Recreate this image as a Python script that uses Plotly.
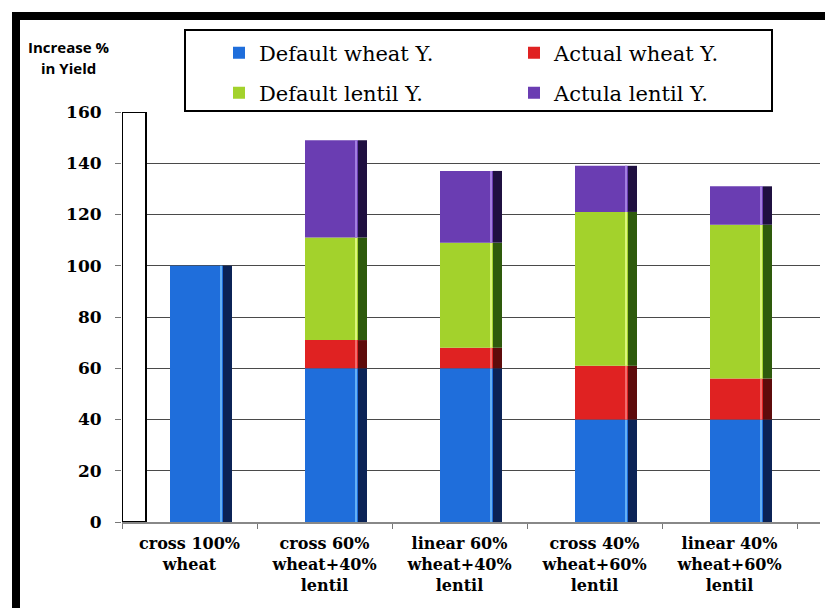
import numpy as np
import plotly.graph_objects as go

# ---------------- data ----------------
categories = [
    "cross 100%<br>wheat",
    "cross 60%<br>wheat+40%<br>lentil",
    "linear 60%<br>wheat+40%<br>lentil",
    "cross 40%<br>wheat+60%<br>lentil",
    "linear 40%<br>wheat+60%<br>lentil",
]
series_names = ["Default wheat Y.", "Actual wheat Y.", "Default lentil Y.", "Actula lentil Y."]
default_wheat = [100, 60, 60, 40, 40]
actual_wheat = [0, 11, 8, 21, 16]
default_lentil = [0, 40, 41, 60, 60]
actual_lentil = [0, 38, 28, 18, 15]
y_tick_values = [0, 20, 40, 60, 80, 100, 120, 140, 160]
y_axis_title = ["Increase %", "in Yield"]

# ---------------- geometry (reference pixel coords) ----------------
PAGE_OFF = 8                     # browser body margin
W, H = 833 - PAGE_OFF, 608 - PAGE_OFF
PLOT_X0, PLOT_X1 = 122, 820      # plot area in reference pixels
PLOT_Y0, PLOT_Y1 = 112, 522
L = PLOT_X0 - PAGE_OFF
T = PLOT_Y0 - PAGE_OFF
R = W - (PLOT_X1 - PAGE_OFF)
B = H - (PLOT_Y1 - PAGE_OFF)
PW, PH = PLOT_X1 - PLOT_X0, PLOT_Y1 - PLOT_Y0
SLOT = 135.0


def px2x(px):
    return (px - PLOT_X0) / PW


def px2y(py):
    return (PLOT_Y1 - py) / PH


front_colors = ["#1f6edb", "#e02222", "#a3d22c", "#6a3db2"]
side_colors = ["#0b2356", "#5e0b0b", "#2e5a0c", "#1f1040"]
high_colors = ["#62b0f7", "#f46a6a", "#dcf57a", "#a27ee0"]
legend_ids = ["legend", "legend", "legend2", "legend2"]

FRONT_OFF, FRONT_W = -19.5 / SLOT, 53 / SLOT
SIDE_OFF, SIDE_W = 33.5 / SLOT, 9 / SLOT
HI_OFF, HI_W = 30.5 / SLOT, 2 / SLOT

serif = "DejaVu Serif"

series_values = [default_wheat, actual_wheat, default_lentil, actual_lentil]
stack = np.array(series_values, dtype=float)
bases = np.vstack([np.zeros(stack.shape[1]), np.cumsum(stack, axis=0)[:-1]])

fig = go.Figure()
for i, name in enumerate(series_names):
    fig.add_trace(go.Bar(
        x=categories, y=stack[i], base=bases[i], name=name,
        offset=FRONT_OFF, width=FRONT_W,
        marker=dict(color=front_colors[i], line=dict(width=0)),
        legend=legend_ids[i], showlegend=True,
    ))
    fig.add_trace(go.Bar(
        x=categories, y=stack[i], base=bases[i], name=name,
        offset=SIDE_OFF, width=SIDE_W,
        marker=dict(color=side_colors[i], line=dict(width=0)),
        showlegend=False, hoverinfo="skip",
    ))
    fig.add_trace(go.Bar(
        x=categories, y=stack[i], base=bases[i], name=name,
        offset=HI_OFF, width=HI_W,
        marker=dict(color=high_colors[i], line=dict(width=0)),
        showlegend=False, hoverinfo="skip",
    ))

legend_common = dict(
    orientation="h", xanchor="left", yanchor="middle",
    font=dict(family=serif, size=21, color="black"),
    bgcolor="rgba(0,0,0,0)", borderwidth=0,
    entrywidth=250, entrywidthmode="pixels",
)

shapes = [
    # top and left black frame
    dict(type="rect", xref="paper", yref="paper",
         x0=px2x(12), x1=px2x(845), y0=px2y(20), y1=px2y(12),
         fillcolor="black", line=dict(width=0), layer="above"),
    dict(type="rect", xref="paper", yref="paper",
         x0=px2x(12), x1=px2x(20), y0=px2y(620), y1=px2y(12),
         fillcolor="black", line=dict(width=0), layer="above"),
    # legend box
    dict(type="rect", xref="paper", yref="paper",
         x0=px2x(185), x1=px2x(772), y0=px2y(111), y1=px2y(30),
         fillcolor="white", line=dict(color="black", width=2), layer="below"),
    # back wall
    dict(type="rect", xref="x", yref="y",
         x0=-0.5, x1=-0.5 + 24 / SLOT, y0=0, y1=160,
         fillcolor="white", line=dict(color="black", width=2), layer="above"),
]

title_font = dict(family="Open Sans", size=15, color="black", weight="bold")
annotations = [
    dict(text=y_axis_title[0], xref="paper", yref="paper", x=px2x(68), y=px2y(47),
         xanchor="center", yanchor="middle", showarrow=False, font=title_font),
    dict(text=y_axis_title[1], xref="paper", yref="paper", x=px2x(68), y=px2y(68),
         xanchor="center", yanchor="middle", showarrow=False, font=title_font),
]

fig.update_layout(
    width=W, height=H,
    margin=dict(l=L, r=R, t=T, b=B, autoexpand=False),
    paper_bgcolor="white", plot_bgcolor="white",
    barmode="overlay",
    legend=dict(x=px2x(219), y=px2y(53), **legend_common),
    legend2=dict(x=px2x(219), y=px2y(93), **legend_common),
    shapes=shapes,
    annotations=annotations,
    xaxis=dict(
        type="category", range=[-0.5, -0.5 + PW / SLOT],
        tickson="boundaries", ticks="outside", ticklen=5, tickcolor="#777",
        showline=True, linecolor="#888", linewidth=1.5,
        showgrid=False, zeroline=False,
        ticklabelstandoff=6,
        tickfont=dict(family=serif, size=16, color="black", weight="bold"),
    ),
    yaxis=dict(
        range=[0, 160], tickvals=y_tick_values,
        ticks="outside", ticklen=6, tickcolor="#777",
        showgrid=True, gridcolor="#4a4a4a", gridwidth=1,
        zeroline=False, showline=False,
        ticklabelstandoff=10,
        tickfont=dict(family=serif, size=17, color="black", weight="bold"),
    ),
)

fig.write_html("out.html")
